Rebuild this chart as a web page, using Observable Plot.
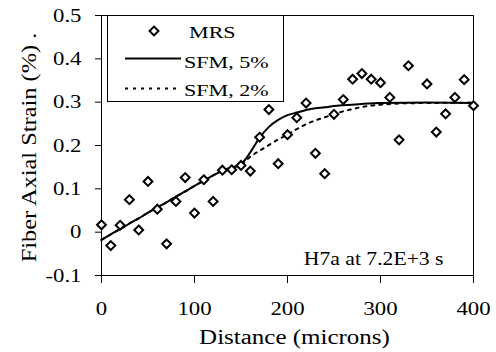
<!DOCTYPE html>
<html><head><meta charset="utf-8">
<script src="https://cdn.jsdelivr.net/npm/d3@7"></script>
<script src="https://cdn.jsdelivr.net/npm/@observablehq/plot@0.6"></script>
<style>
html,body{margin:0;padding:0;background:#fff;}
</style></head><body><div id="chart"></div>
<script>
// ---- data ----
const mrsDistance = [0,10,20,30,40,50,60,70,80,90,100,110,120,130,140,150,160,170,180,190,200,210,220,230,240,250,260,270,280,290,300,310,320,330,350,360,370,380,390,400];
const mrsStrain   = [0.017,-0.031,0.016,0.075,0.005,0.117,0.053,-0.027,0.071,0.126,0.044,0.121,0.071,0.143,0.144,0.154,0.141,0.219,0.283,0.158,0.225,0.264,0.298,0.182,0.135,0.272,0.306,0.353,0.366,0.353,0.345,0.311,0.213,0.384,0.342,0.231,0.273,0.311,0.352,0.292];
const sfm5Distance = [0,10,20,30,40,50,60,70,80,90,100,110,120,130,140,150,160,170,180,190,200,210,220,230,240,250,260,280,300,350,400];
const sfm5Strain   = [-0.018,-0.005,0.007,0.020,0.032,0.045,0.057,0.069,0.082,0.094,0.107,0.119,0.131,0.142,0.149,0.157,0.184,0.218,0.243,0.259,0.270,0.276,0.282,0.286,0.288,0.291,0.293,0.296,0.298,0.299,0.298];
const sfm2Distance = [0,10,20,30,40,50,60,70,80,90,100,110,120,130,140,150,160,170,180,190,200,210,220,230,240,250,260,270,280,290,300,320,350,400];
const sfm2Strain   = [-0.018,-0.005,0.007,0.020,0.032,0.045,0.057,0.069,0.082,0.094,0.107,0.119,0.131,0.142,0.149,0.155,0.174,0.188,0.201,0.214,0.225,0.238,0.249,0.258,0.265,0.272,0.279,0.284,0.289,0.292,0.294,0.297,0.298,0.299];
const xTicks = [0,100,200,300,400];
const yTicks = [-0.1,0,0.1,0.2,0.3,0.4,0.5];
const seriesNames = ["MRS","SFM, 5%","SFM, 2%"];
const annotation = "H7a at 7.2E+3 s";
const xTitle = "Distance (microns)";
const yTitle = "Fiber Axial Strain (%) .";

const mrs = mrsDistance.map((d,i)=>({x:d,y:mrsStrain[i]}));
const sfm5 = sfm5Distance.map((d,i)=>({x:d,y:sfm5Strain[i]}));
const sfm2 = sfm2Distance.map((d,i)=>({x:d,y:sfm2Strain[i]}));

const FONT = "'Liberation Serif','Times New Roman',serif";
const DASH = "3,5";
const fmtX = d => String(d);
const fmtY = d => d===0 ? "0" : String(d);

const plot = Plot.plot({
  width:496, height:352,
  marginLeft:101, marginRight:23, marginTop:15, marginBottom:77,
  x:{domain:[0,400]},
  y:{domain:[-0.1,0.5]},
  style:{fontFamily:FONT, fontSize:"18px", color:"#000", background:"#fff", overflow:"visible"},
  marks:[
    Plot.frame({stroke:"#000", strokeWidth:1}),
    Plot.axisX({ticks:xTicks, tickSize:8, tickFormat:()=>"", label:null}),
    Plot.axisY({ticks:yTicks, tickSize:6, tickFormat:()=>"", label:null}),
    Plot.text(xTicks, {x:d=>d, text:fmtX, frameAnchor:"bottom", dy:26, lineAnchor:"top", textAnchor:"middle", fontSize:19}),
    Plot.text(yTicks, {y:d=>d, text:fmtY, frameAnchor:"left", dx:-20, lineAnchor:"middle", textAnchor:"end", fontSize:19}),
    Plot.line(sfm2, {x:"x", y:"y", stroke:"#000", strokeWidth:2, strokeDasharray:DASH, curve:"monotone-x"}),
    Plot.line(sfm5, {x:"x", y:"y", stroke:"#000", strokeWidth:2, curve:"monotone-x"}),
    Plot.dot(mrs, {x:"x", y:"y", symbol:"diamond2", r:4, stroke:"#000", strokeWidth:2, fill:"#fff"}),
    Plot.text([annotation], {text:d=>d, frameAnchor:"bottom-right", dx:-30, dy:-11, textAnchor:"end", lineAnchor:"bottom", fontSize:19}),
    Plot.text([xTitle], {text:d=>d, frameAnchor:"bottom", dx:7, dy:68, textAnchor:"middle", lineAnchor:"bottom", fontSize:20}),
    Plot.text([yTitle], {text:d=>d, frameAnchor:"left", rotate:-90, dx:-66, dy:2, textAnchor:"middle", lineAnchor:"bottom", fontSize:20})
  ]
});

const svg = d3.select(plot);
// legend
const lg = svg.append("g").attr("aria-label","legend");
lg.append("rect").attr("x",107.5).attr("y",15.5).attr("width",176).attr("height",86)
  .attr("fill","#fff").attr("stroke","#000").attr("stroke-width",1);
lg.append("path").attr("d", d3.symbol(d3.symbolDiamond2, Math.PI*16)())
  .attr("transform","translate(154,31)").attr("fill","#fff").attr("stroke","#000").attr("stroke-width",2);
lg.append("line").attr("x1",125).attr("x2",181).attr("y1",58.5).attr("y2",58.5).attr("stroke","#000").attr("stroke-width",2);
lg.append("line").attr("x1",125).attr("x2",181).attr("y1",88.5).attr("y2",88.5).attr("stroke","#000").attr("stroke-width",2).attr("stroke-dasharray",DASH);
const legendPos = [[189,38],[184,68],[184,96]];
seriesNames.forEach((name,i)=>{
  lg.append("text").attr("x",legendPos[i][0]).attr("y",legendPos[i][1])
    .attr("text-anchor","start")
    .attr("font-family",FONT).attr("font-size",17).attr("fill","#000").text(name);
});

// horizontal stretch of the (wide) serif lettering, per text
const tickSet = new Set([...xTicks.map(fmtX), ...yTicks.map(fmtY)]);
const stretchFor = s => {
  if (tickSet.has(s)) return 1.2;
  if (s === annotation) return 1.14;
  if (s === xTitle) return 1.25;
  if (s === yTitle) return 1.22;
  if (seriesNames.includes(s)) return 1.3;
  return 1;
};
svg.selectAll("text").each(function(){
  const s = stretchFor(this.textContent.trim());
  if (s === 1) return;
  const x = parseFloat(this.getAttribute("x")) || 0;
  const y = parseFloat(this.getAttribute("y")) || 0;
  const T = this.getAttribute("transform") || "";
  this.setAttribute("transform", `${T} translate(${x},${y}) scale(${s},1) translate(${-x},${-y})`);
});

document.getElementById("chart").appendChild(plot);
</script></body></html>
